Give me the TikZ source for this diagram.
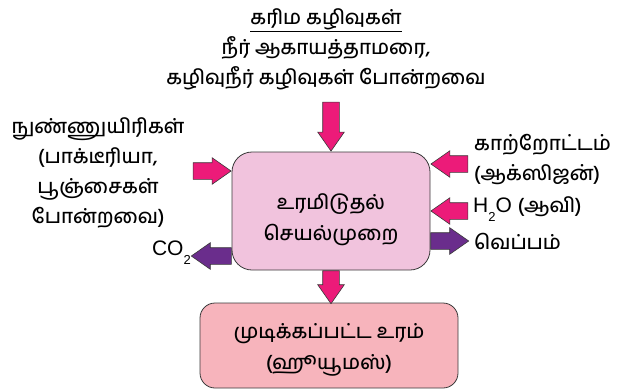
\documentclass[tikz,border=0pt]{standalone}
\usepackage{fontspec}
\setmainfont{Liberation Sans}
\newfontfamily\tamil[Script=Tamil, UprightFont={* Medium}]{Hind Madurai}
\usetikzlibrary{shapes.arrows,positioning}

\definecolor{procfill}{HTML}{F1C3DD}
\definecolor{humusfill}{HTML}{F7B4BC}
\definecolor{arrowpink}{HTML}{EC1B79}
\definecolor{arrowpurple}{HTML}{6A2D8C}
\definecolor{boxline}{HTML}{3A3A3A}

% lowered small digit for the formulas
\newcommand{\lowsub}[1]{\raisebox{-9pt}{\fontsize{13pt}{13pt}\selectfont #1}}

\tikzset{
  stagebox/.style={draw=boxline, thick, rounded corners=20pt, inner sep=0pt},
  tamiltext/.style={inner sep=0pt, font=\tamil\fontsize{20pt}{30pt}\selectfont},
  formula/.style={inner sep=0pt, font=\fontsize{21pt}{21pt}\selectfont},
  blockarrow/.style={single arrow, draw=boxline, semithick, inner xsep=0pt,
    inner ysep=8pt, single arrow head extend=5pt,
    single arrow tip angle=70, minimum height=38pt},
  inarrow/.style={blockarrow, fill=arrowpink},
  outarrow/.style={blockarrow, fill=arrowpurple},
}

\begin{document}
\begin{tikzpicture}[x=1pt, y=1pt]
  \useasboundingbox (0,0) rectangle (623,-391);

  % the two stages
  \node[stagebox, fill=procfill, minimum width=198pt, minimum height=118pt]
    (proc) at (331,-211) {};
  \node[tamiltext, align=center, font=\tamil\fontsize{20pt}{31pt}\selectfont]
    (proctext) at ([yshift=-9pt]proc.center) {உரமிடுதல்\\செயல்முறை};
  \node[stagebox, fill=humusfill, rounded corners=15pt,
    minimum width=258pt, minimum height=85pt] (humus) at (329,-345.5) {};
  \node[tamiltext, align=center, font=\tamil\fontsize{20pt}{31pt}\selectfont]
    (humustext) at ([yshift=-4pt]humus.center) {முடிக்கப்பட்ட உரம்\\(ஹூயூமஸ்)};

  % inputs and outputs around the process
  \node[tamiltext, align=center] (wastes) at (326,-49)
    {\underline{கரிம கழிவுகள்}\\நீர் ஆகாயத்தாமரை,\\கழிவுநீர் கழிவுகள் போன்றவை};
  \node[tamiltext, align=center] (microbes) at (98,-173)
    {நுண்ணுயிரிகள்\\(பாக்டீரியா,\\பூஞ்சைகள்\\போன்றவை)};
  \node[tamiltext, align=left, anchor=west] (air) at (474,-159)
    {காற்றோட்டம்\\(ஆக்ஸிஜன்)};
  \node[formula, anchor=west] (steam) at (473,-209)
    {H\lowsub{2}O {\tamil\fontsize{20pt}{20pt}\selectfont(ஆவி)}};
  \node[tamiltext, anchor=west] (heat) at (474,-241) {வெப்பம்};
  \node[formula, anchor=east] (carbon) at (191,-253) {CO\lowsub{2}};

  % block arrows into the process
  \node[inarrow, rotate=-90, anchor=tip, minimum height=49pt] (awastes) at (proc.north) {};
  \node[inarrow, anchor=tip] (amicrobes) at ([yshift=40pt]proc.west) {};
  \node[inarrow, rotate=180, anchor=tip, minimum height=37pt] (aair) at ([yshift=47pt]proc.east) {};
  \node[inarrow, rotate=180, anchor=tip, minimum height=37pt] (asteam) at (proc.east) {};
  % block arrows out of it
  \node[outarrow, anchor=tail] (aheat) at ([yshift=-30pt]proc.east) {};
  \node[outarrow, rotate=180, anchor=tail, minimum height=40pt] (acarbon) at ([yshift=-45pt]proc.west) {};
  \node[inarrow, rotate=-90, anchor=tail, minimum height=33pt] (ahumus) at (proc.south) {};
\end{tikzpicture}
\end{document}
